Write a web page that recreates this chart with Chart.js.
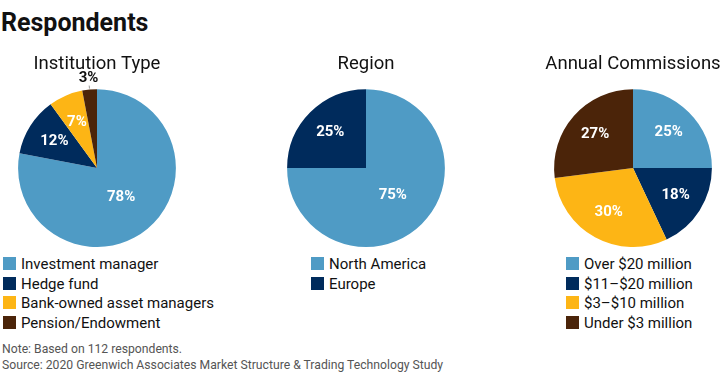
<!DOCTYPE html>
<html>
<head>
<meta charset="utf-8">
<script src="https://cdn.jsdelivr.net/npm/chart.js@4"></script>
<style>
  body { margin: 0; background: #fff; font-family: Roboto, sans-serif; }
  #page { position: relative; width: 720px; height: 381px; overflow: hidden; }
  h1 { position: absolute; left: 1px; top: 8px; margin: 0; font-size: 25px; font-weight: bold; color: #111; }
  .box { position: absolute; top: 51px; width: 200px; height: 196px; }
  .legend { position: absolute; top: 255px; margin: 0; padding: 0; list-style: none; font-size: 15px; color: #111; }
  .legend li { height: 19.5px; line-height: 19.5px; white-space: nowrap; }
  .legend span { display: inline-block; width: 13px; height: 13px; margin-right: 5px; vertical-align: -1px; }
  .note { position: absolute; left: 2px; font-size: 12.2px; color: #555; }
</style>
</head>
<body>
<div id="page">
  <h1>Respondents</h1>
  <div class="box" style="left:-3px"><canvas id="chart1"></canvas></div>
  <div class="box" style="left:266px"><canvas id="chart2"></canvas></div>
  <div class="box" style="left:533px"><canvas id="chart3"></canvas></div>
  <ul class="legend" id="legend1" style="left:3px"></ul>
  <ul class="legend" id="legend2" style="left:311px"></ul>
  <ul class="legend" id="legend3" style="left:566px"></ul>
  <div class="note" style="top:342px">Note: Based on 112 respondents.</div>
  <div class="note" style="top:358px">Source: 2020 Greenwich Associates Market Structure &amp; Trading Technology Study</div>
</div>
<script>
const typeLabels = ["Investment manager", "Hedge fund", "Bank-owned asset managers", "Pension/Endowment"];
const typeValues = [78, 12, 7, 3];
const regionLabels = ["North America", "Europe"];
const regionValues = [75, 25];
const commLabels = ["Over $20 million", "$11\u2013$20 million", "$3\u2013$10 million", "Under $3 million"];
const commValues = [25, 18, 30, 27];
const pieColors = ["#4f9bc5", "#002b5c", "#fdb515", "#4b2409"];

// percent labels inside slices, tiny slices get an outside label with a short leader line
const sliceLabels = {
  id: "sliceLabels",
  afterDatasetsDraw(chart) {
    const ctx = chart.ctx;
    const data = chart.data.datasets[0].data;
    const total = data.reduce((a, b) => a + b, 0);
    chart.getDatasetMeta(0).data.forEach((arc, i) => {
      const p = arc.getProps(["x", "y", "startAngle", "endAngle", "outerRadius"], true);
      const mid = (p.startAngle + p.endAngle) / 2;
      const frac = data[i] / total;
      const r = p.outerRadius;
      ctx.save();
      ctx.font = "bold 15px Roboto, sans-serif";
      ctx.textAlign = "center";
      ctx.textBaseline = "middle";
      if (frac < 0.05) {
        ctx.strokeStyle = "#999";
        ctx.lineWidth = 1;
        ctx.beginPath();
        ctx.moveTo(p.x + Math.cos(mid) * (r + 1), p.y + Math.sin(mid) * (r + 1));
        ctx.lineTo(p.x + Math.cos(mid) * (r + 4), p.y + Math.sin(mid) * (r + 4));
        ctx.stroke();
        ctx.fillStyle = "#111";
        ctx.fillText(data[i] + "%", p.x + Math.cos(mid) * (r + 11), p.y + Math.sin(mid) * (r + 11));
      } else {
        const k = frac > 0.5 ? 0.48 : 0.64;
        ctx.fillStyle = "#fff";
        ctx.fillText(data[i] + "%", p.x + Math.cos(mid) * r * k, p.y + Math.sin(mid) * r * k);
      }
      ctx.restore();
    });
  }
};

function makePie(id, title, labels, values) {
  return new Chart(id, {
    type: "pie",
    data: {
      labels: labels,
      datasets: [{
        data: values,
        backgroundColor: pieColors.slice(0, values.length),
        borderWidth: 0
      }]
    },
    options: {
      responsive: true,
      maintainAspectRatio: false,
      animation: false,
      layout: { padding: 0 },
      plugins: {
        legend: { display: false },
        tooltip: { enabled: false },
        title: {
          display: true,
          text: title,
          color: "#111",
          font: { family: "Roboto, sans-serif", size: 18.5, weight: "normal" },
          padding: { top: 2, bottom: 14 }
        }
      }
    },
    plugins: [sliceLabels]
  });
}

function makeLegend(id, labels) {
  const ul = document.getElementById(id);
  labels.forEach((l, i) => {
    const li = document.createElement("li");
    li.innerHTML = '<span style="background:' + pieColors[i] + '"></span>' + l;
    ul.appendChild(li);
  });
}

makePie("chart1", "Institution Type", typeLabels, typeValues);
makePie("chart2", "Region", regionLabels, regionValues);
makePie("chart3", "Annual Commissions", commLabels, commValues);
makeLegend("legend1", typeLabels);
makeLegend("legend2", regionLabels);
makeLegend("legend3", commLabels);
</script>
</body>
</html>
